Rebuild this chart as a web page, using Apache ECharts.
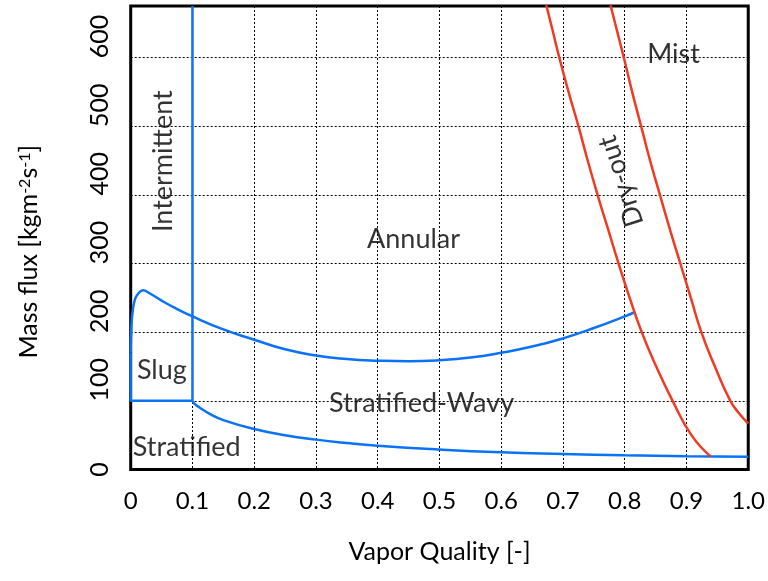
<!DOCTYPE html>
<html>
<head>
<meta charset="utf-8">
<script src="https://cdn.jsdelivr.net/npm/echarts@6/dist/echarts.min.js"></script>
<style>
html,body{margin:0;padding:0;background:#fff;}
#chart{width:768px;height:581px;}
</style>
</head>
<body>
<div id="chart"></div>
<script>
// ---- Data ----
const xTickValues = [0, 0.1, 0.2, 0.3, 0.4, 0.5, 0.6, 0.7, 0.8, 0.9, 1.0];
const xTickLabels = ['0', '0.1', '0.2', '0.3', '0.4', '0.5', '0.6', '0.7', '0.8', '0.9', '1.0'];
const yTickValues = [0, 100, 200, 300, 400, 500, 600];
const yTickLabels = ['0', '100', '200', '300', '400', '500', '600'];

// Intermittent / Annular boundary (vertical at x = 0.1)
const intermittentX = [0.1, 0.1];
const intermittentY = [100, 675];

// Slug region box (bottom and left edge)
const slugBoxX = [0.1, 0, 0];
const slugBoxY = [100, 100, 170];

// Annular / Intermittent-Slug upper boundary
const annularX = [0, 0.001, 0.003, 0.007, 0.012, 0.02, 0.03, 0.05, 0.07, 0.1, 0.15, 0.2, 0.25, 0.3, 0.35, 0.4, 0.45, 0.5, 0.55, 0.6, 0.65, 0.7, 0.75, 0.8, 0.816];
const annularY = [170, 205, 229, 248, 256, 261, 257, 246, 236, 223, 204, 189, 175, 166, 161, 158.5, 157.5, 159, 163, 170, 179, 191, 206, 223, 229];

// Stratified / Stratified-Wavy boundary
const stratX = [0.1, 0.103, 0.112, 0.128, 0.15, 0.2, 0.25, 0.3, 0.35, 0.4, 0.5, 0.6, 0.7, 0.8, 0.9, 1.0];
const stratY = [100, 96, 90, 81, 72, 59, 50, 43.5, 38.5, 34.5, 29, 25, 22.6, 20.7, 19.3, 18.7];

// Dry-out boundary
const dryoutX = [0.673, 0.683, 0.694, 0.709, 0.725, 0.74, 0.756, 0.773, 0.79, 0.808, 0.8275, 0.851, 0.8775, 0.908, 0.939];
const dryoutY = [676, 640, 600, 550, 500, 450, 400, 350, 300, 250, 200, 150, 100, 50, 19];

// Mist boundary
const mistX = [0.777, 0.7985, 0.812, 0.8265, 0.841, 0.857, 0.873, 0.89, 0.907, 0.924, 0.946, 0.971, 0.985, 1.0];
const mistY = [676, 600, 550, 500, 450, 400, 350, 300, 250, 200, 150, 100, 82, 67];

// Region labels
const regionNames = ['Intermittent', 'Annular', 'Mist', 'Dry-out', 'Slug', 'Stratified-Wavy', 'Stratified'];
const regionX = [0.052, 0.458, 0.879, 0.794, 0.0505, 0.471, 0.0907];
const regionY = [449, 335, 605, 420, 144, 97, 33];
const regionRotate = [90, 0, 0, 108, 0, 0, 0];

// ---- Chart ----
const zip = (xs, ys) => xs.map((x, i) => [x, ys[i]]);
const BLUE = '#0a72f5';
const RED = '#f03a24';
const FONT = 'Lato';

const lineSeries = (data, color, smooth) => ({
  type: 'line', data: data, showSymbol: false, symbol: 'none',
  smooth: smooth,
  lineStyle: { color: color, width: 2.5 }, silent: true, animation: false
});

const chart = echarts.init(document.getElementById('chart'), null, { renderer: 'canvas' });
chart.setOption({
  animation: false,
  backgroundColor: '#fff',
  grid: { left: 130.7, right: 17, top: 6, bottom: 111.5, show: true, borderColor: '#000', borderWidth: 3, backgroundColor: 'transparent' },
  xAxis: {
    type: 'value', min: 0, max: 1, interval: 0.1,
    name: 'Vapor Quality [-]', nameLocation: 'middle', nameGap: 70,
    nameTextStyle: { fontFamily: FONT, fontSize: 25, color: '#000' },
    axisLine: { show: false }, axisTick: { show: false },
    axisLabel: {
      margin: 20, fontFamily: FONT, fontSize: 24, color: '#000',
      formatter: v => { const i = xTickValues.findIndex(t => Math.abs(t - v) < 1e-6); return i >= 0 ? xTickLabels[i] : ''; }
    },
    splitLine: { show: true, lineStyle: { color: '#000', width: 1, type: [2, 2] } }
  },
  yAxis: {
    type: 'value', min: 0, max: 675, interval: 100,
    name: 'Mass flux [kgm{sup|-2}s{sup|-1}]', nameLocation: 'middle', nameGap: 89, nameRotate: 90,
    nameTextStyle: {
      fontFamily: FONT, fontSize: 25, color: '#000', padding: [0, 28, 0, 0],
      rich: { sup: { fontFamily: FONT, fontSize: 16, color: '#000', verticalAlign: 'top' } }
    },
    axisLine: { show: false }, axisTick: { show: false },
    axisLabel: {
      rotate: 90, margin: 18, color: '#000',
      formatter: v => {
        const i = yTickValues.indexOf(v);
        if (i < 0) return '';
        return v === 0 ? '{z|' + yTickLabels[i] + '}' : '{n|' + yTickLabels[i] + '}';
      },
      rich: {
        z: { fontFamily: FONT, fontSize: 25, color: '#000' },
        n: { fontFamily: FONT, fontSize: 25, color: '#000', padding: [0, 0, 0, 42] }
      }
    },
    splitLine: { show: true, lineStyle: { color: '#000', width: 1, type: [2, 2] } }
  },
  series: [
    lineSeries(zip(intermittentX, intermittentY), BLUE, false),
    lineSeries(zip(slugBoxX, slugBoxY), BLUE, false),
    lineSeries(zip(annularX, annularY), BLUE, 0.5),
    lineSeries(zip(stratX, stratY), BLUE, 0.5),
    lineSeries(zip(dryoutX, dryoutY), RED, 0.5),
    lineSeries(zip(mistX, mistY), RED, 0.5),
    {
      type: 'scatter', symbolSize: 0, silent: true, z: 5,
      data: regionNames.map((n, i) => ({
        value: [regionX[i], regionY[i]],
        label: { show: true, position: 'inside', formatter: n, rotate: regionRotate[i], fontFamily: FONT, fontSize: 27, color: '#000' }
      }))
    }
  ]
});
</script>
</body>
</html>
